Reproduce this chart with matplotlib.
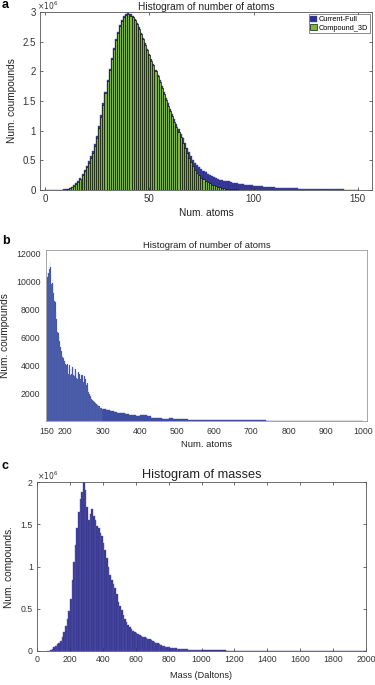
import matplotlib
matplotlib.use("Agg")
import matplotlib.pyplot as plt
import numpy as np

plt.rcParams["font.family"] = ["Liberation Sans", "DejaVu Sans"]

# ---------- (a) atoms per compound, counts in millions, bins 0..150 ----------
atom_bins = np.arange(0, 151)
full_counts_m = [
    0.0005, 0.0008, 0.001, 0.0015, 0.002, 0.003, 0.004, 0.005, 0.007, 0.009,
    0.014, 0.021, 0.032, 0.05, 0.077, 0.11, 0.15, 0.20, 0.265, 0.335,
    0.41, 0.485, 0.565, 0.66, 0.77, 0.91, 1.08, 1.26, 1.46, 1.66,
    1.85, 2.04, 2.22, 2.39, 2.54, 2.67, 2.78, 2.87, 2.93, 2.97,
    2.98, 2.96, 2.93, 2.88, 2.82, 2.74, 2.65, 2.56, 2.47, 2.38,
    2.29, 2.20, 2.12, 2.03, 1.94, 1.85, 1.75, 1.65, 1.55, 1.46,
    1.37, 1.28, 1.19, 1.11, 1.03, 0.95, 0.87, 0.79, 0.71, 0.64,
    0.57, 0.51, 0.46, 0.42, 0.38, 0.35, 0.32, 0.295, 0.27, 0.25,
    0.23, 0.215, 0.20, 0.19, 0.175, 0.165, 0.16, 0.15, 0.145, 0.135,
    0.125, 0.12, 0.112, 0.105, 0.10, 0.095, 0.09, 0.085, 0.08, 0.078,
    0.074, 0.07, 0.067, 0.063, 0.06, 0.057, 0.054, 0.051, 0.049, 0.046,
    0.044, 0.042, 0.040, 0.038, 0.036, 0.034, 0.033, 0.031, 0.030, 0.029,
    0.027, 0.026, 0.025, 0.024, 0.023, 0.022, 0.021, 0.020, 0.019, 0.018,
    0.017, 0.016, 0.016, 0.015, 0.014, 0.013, 0.013, 0.012, 0.011, 0.011,
    0.010, 0.010, 0.009, 0.009, 0.008, 0.008, 0.007, 0.007, 0.006, 0.006, 0.005,
]
c3d_counts_m = [
    0.0003, 0.0005, 0.0008, 0.001, 0.0015, 0.002, 0.003, 0.004, 0.005, 0.007,
    0.012, 0.018, 0.028, 0.045, 0.07, 0.10, 0.14, 0.19, 0.25, 0.32,
    0.39, 0.46, 0.54, 0.63, 0.74, 0.88, 1.05, 1.23, 1.43, 1.63,
    1.83, 2.02, 2.20, 2.37, 2.52, 2.65, 2.76, 2.85, 2.91, 2.95,
    2.96, 2.94, 2.91, 2.86, 2.80, 2.72, 2.63, 2.54, 2.45, 2.36,
    2.27, 2.18, 2.10, 2.01, 1.92, 1.82, 1.72, 1.62, 1.52, 1.42,
    1.33, 1.24, 1.15, 1.06, 0.98, 0.89, 0.80, 0.71, 0.62, 0.54,
    0.47, 0.40, 0.34, 0.29, 0.245, 0.21, 0.18, 0.155, 0.13, 0.11,
    0.092, 0.077, 0.064, 0.053, 0.044, 0.036, 0.030, 0.025, 0.020, 0.017,
    0.014, 0.012, 0.010, 0.008, 0.007, 0.006, 0.005, 0.004, 0.0035, 0.003,
    0.0025, 0.002, 0.002, 0.0018, 0.0015, 0.0013, 0.0012, 0.001, 0.001, 0.0009,
    0.0008, 0.0007, 0.0007, 0.0006, 0.0005, 0.0005, 0.0004, 0.0004, 0.0004, 0.0003,
    0.0003, 0.0003, 0.0003, 0.0002, 0.0002, 0.0002, 0.0002, 0.0002, 0.0001, 0.0001,
    0.0001, 0.0001, 0.0001, 0.0001, 0.0001, 0.0001, 0.0001, 0.0001, 0.0001, 0.0001,
    0.0001, 0.0001, 0.0001, 0.0001, 0.0001, 0.0001, 0.0001, 0.0001, 0.0001, 0.0001, 0.0001,
]

# ---------- (b) tail of atom counts >150 ----------
tail_bins_2 = np.arange(150, 300, 2)     # 2-atom bins 150..298
tail_counts_2 = [
    10700, 10300, 10600, 10900, 11400, 11000, 9800, 9900, 10100, 9200,
    8600, 8500, 7800, 7300, 6400, 6300, 6000, 5700, 5300, 5000,
    4800, 4600, 4500, 4300, 4200, 4100, 4000, 4100, 3900, 3400,
    4000, 3300, 3700, 3400, 3900, 3300, 3800, 3200, 3700, 3100,
    3500, 3000, 3500, 3000, 3400, 3000, 3300, 2900, 3300, 2800,
    3200, 2700, 3000, 2600, 2700, 2300, 2100, 1900, 1800, 1700,
    1600, 1500, 1450, 1400, 1350, 1300, 1250, 1200, 1150, 1100,
    1050, 1000, 950, 900, 880,
]
tail_bins_10 = np.arange(300, 1000, 10)  # 10-atom bins 300..990
tail_counts_10 = [
    850, 780, 700, 650, 600, 560, 520, 450, 420, 380,
    400, 400, 330, 230, 200, 180, 160, 150, 190, 150,
    130, 120, 110, 100, 95, 90, 85, 80, 75, 70,
    68, 65, 62, 60, 70, 75, 65, 55, 50, 45,
    42, 40, 38, 36, 35, 33, 32, 30, 30, 28,
    27, 26, 25, 24, 24, 23, 22, 22, 21, 20,
    20, 19, 18, 18, 17, 16, 15, 14, 14, 13,
]
spike_atoms = [386]
spike_counts = [850]

# ---------- (c) masses, counts in millions ----------
mass_bins_fine = np.arange(60, 1000, 10)
mass_counts_fine = [
    0.002, 0.005, 0.012, 0.025, 0.045, 0.065, 0.085, 0.10, 0.12, 0.16,
    0.22, 0.30, 0.38, 0.47, 0.62, 0.84, 1.05, 1.25, 1.45, 1.65,
    1.80, 1.88, 2.00, 1.90, 1.70, 1.55, 1.62, 1.68, 1.60, 1.55,
    1.48, 1.45, 1.40, 1.36, 1.28, 1.20, 1.10, 1.00, 0.90, 0.84,
    0.79, 0.75, 0.67, 0.58, 0.53, 0.48, 0.43, 0.38, 0.34, 0.31,
    0.28, 0.26, 0.24, 0.225, 0.21, 0.20, 0.185, 0.175, 0.17, 0.165,
    0.155, 0.145, 0.14, 0.13, 0.12, 0.11, 0.10, 0.09, 0.08, 0.072,
    0.065, 0.058, 0.052, 0.047, 0.043, 0.039, 0.036, 0.033, 0.030, 0.028,
    0.026, 0.024, 0.022, 0.021, 0.019, 0.018, 0.017, 0.016, 0.015, 0.014,
    0.013, 0.012, 0.012, 0.011,
]
mass_bins_tail = np.arange(1000, 2000, 50)
mass_counts_tail = [
    0.009, 0.007, 0.006, 0.005, 0.004, 0.0035, 0.003, 0.0025, 0.002, 0.002,
    0.0015, 0.0015, 0.001, 0.001, 0.001, 0.0008, 0.0008, 0.0006, 0.0005, 0.0005,
]

NAVY = "#2e2f8e"
GREEN = "#7db447"
BLUE_B = "#3d4ea0"
AXC = "#555555"
W, H = 375, 685
fig = plt.figure(figsize=(W / 100, H / 100), dpi=100)

def rect(l, t, r, b):
    return [l / W, 1 - b / H, (r - l) / W, (b - t) / H]

def matlab_ticks(ax, fs):
    ax.tick_params(direction="in", length=2.5, width=0.5, top=True, right=True,
                   labelsize=fs, colors="#333333", pad=3)
    for s in ax.spines.values():
        s.set_color(AXC); s.set_linewidth(0.6)

# ---- panel a ----
ax = fig.add_axes(rect(40, 12, 372, 190))
hb = ax.bar(atom_bins, full_counts_m, width=1, color=NAVY, edgecolor="#4a4ca6", linewidth=0.3, label="Current-Full")
hg = ax.bar(atom_bins, c3d_counts_m, width=1, color=GREEN, edgecolor="#101808", linewidth=0.5, label="Compound_3D")
ax.set_xlim(-2.4, 156.8); ax.set_ylim(0, 3)
ax.set_xticks([0, 50, 100, 150])
ax.set_yticks([0, 0.5, 1, 1.5, 2, 2.5, 3])
ax.set_yticklabels(["0", "0.5", "1", "1.5", "2", "2.5", "3"])
matlab_ticks(ax, 7)
ax.set_title("Histogram of number of atoms", fontsize=7.3, pad=1.5, color="#222222")
ax.set_xlabel("Num. atoms", fontsize=7.3, labelpad=3, color="#222222")
ax.set_ylabel("Num. coumpounds", fontsize=7.3, labelpad=4, color="#222222")
ax.text(-0.01, 1.0, r"$\times10^6$", transform=ax.transAxes, fontsize=5.5, ha="left", va="bottom", color="#333333")
lg = ax.legend(handles=[hb, hg], loc="upper right", fontsize=5.3, frameon=True, fancybox=False,
               borderpad=0.2, handlelength=0.9, handleheight=0.9, handletextpad=0.3,
               labelspacing=0.1, borderaxespad=0.3)
lg.get_frame().set_edgecolor("#333333"); lg.get_frame().set_linewidth(0.5)
fig.text(2 / W, 1 - 5 / H, "a", fontsize=9, fontweight="bold", va="center", ha="left")

# ---- panel b ----
ax = fig.add_axes(rect(46, 250, 367, 421))
ax.bar(tail_bins_2, tail_counts_2, width=2, align="edge", color=BLUE_B, edgecolor="#6a7bc0", linewidth=0.15)
ax.bar(tail_bins_10, tail_counts_10, width=10, align="edge", color=BLUE_B, edgecolor=BLUE_B, linewidth=0.3)
ax.bar(spike_atoms, spike_counts, width=2, align="edge", color="#6677bb", linewidth=0)
ax.set_xlim(148, 1011); ax.set_ylim(0, 12250)
ax.set_xticks([150, 200, 300, 400, 500, 600, 700, 800, 900, 1000])
ax.set_yticks([2000, 4000, 6000, 8000, 10000, 12000])
ax.tick_params(length=0, labelsize=6.3, colors="#333333", pad=4)
for s in ax.spines.values():
    s.set_color("#999999"); s.set_linewidth(0.6)
ax.set_title("Histogram of number of atoms", fontsize=6.8, pad=1.5, color="#222222")
ax.set_xlabel("Num. atoms", fontsize=6.8, labelpad=3, color="#222222")
ax.set_ylabel("Num. coumpounds", fontsize=7.3, labelpad=4, color="#222222")
fig.text(2 / W, 1 - 241 / H, "b", fontsize=9, fontweight="bold", va="center", ha="left")

# ---- panel c ----
ax = fig.add_axes(rect(37, 482, 366, 651))
ax.bar(mass_bins_fine, mass_counts_fine, width=10, align="edge", color="#34348f", edgecolor="#5a5aaa", linewidth=0.3)
ax.bar(mass_bins_tail, mass_counts_tail, width=50, align="edge", color="#34348f", edgecolor="#34348f", linewidth=0.3)
ax.set_xlim(0, 2000); ax.set_ylim(0, 2)
ax.set_xticks(np.arange(0, 2001, 200))
ax.set_yticks([0, 0.5, 1, 1.5, 2])
ax.set_yticklabels(["0", "0.5", "1", "1.5", "2"])
matlab_ticks(ax, 6.3)
ax.set_title("Histogram of masses", fontsize=9.2, pad=3, color="#222222")
ax.set_xlabel("Mass (Daltons)", fontsize=6.6, labelpad=5, color="#222222")
ax.set_ylabel("Num. compounds.", fontsize=7.3, labelpad=5, color="#222222")
ax.text(0.0, 1.0, r"$\times10^6$", transform=ax.transAxes, fontsize=5.5, ha="left", va="bottom", color="#333333")
fig.text(2 / W, 1 - 466 / H, "c", fontsize=9, fontweight="bold", va="center", ha="left")

fig.savefig("out.png", dpi=100)
